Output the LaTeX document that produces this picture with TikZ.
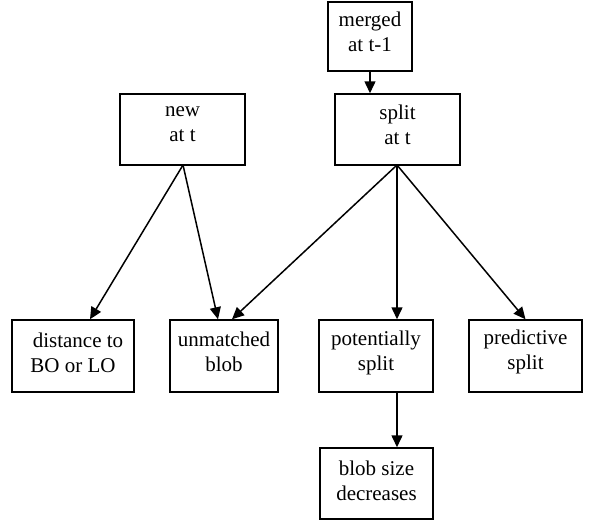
\documentclass[tikz,border=0pt]{standalone}
\usepackage{fontspec}
\setmainfont{Liberation Serif}
\usetikzlibrary{arrows.meta}
\begin{document}
\begin{tikzpicture}[x=1pt,y=-1pt,
  box/.style={draw, line width=1.5pt, inner sep=0pt},
  txt/.style={align=center, inner sep=0pt, font=\fontsize{21}{25}\selectfont},
  conn/.style={line width=1.5pt, -{Triangle[length=12pt,width=11pt]}}]
\useasboundingbox (0,0) rectangle (595,520);
\node[box, minimum width=84pt, minimum height=69pt] (merged) at (370,36.5) {};
\node[box, minimum width=125pt, minimum height=71pt] (new) at (182.5,129.5) {};
\node[box, minimum width=125pt, minimum height=71pt] (split) at (397.5,129.5) {};
\node[box, minimum width=122pt, minimum height=72pt] (dist) at (73,356) {};
\node[box, minimum width=108pt, minimum height=72pt] (unm) at (224,356) {};
\node[box, minimum width=114pt, minimum height=72pt] (pot) at (376,356) {};
\node[box, minimum width=113pt, minimum height=72pt] (pred) at (525.5,356) {};
\node[box, minimum width=113pt, minimum height=71pt] (blob) at (376.5,483.5) {};
\node[txt] (tmerged) at ([yshift=5pt]merged.center) {merged\\at t-1};
\node[txt] (tnew) at ([yshift=5pt]new.center) {new\\at t};
\node[txt] (tsplit) at ([yshift=5pt]split.center) {split\\at t};
\node[txt] (tdist) at ([yshift=3pt]dist.center) {\hspace*{10pt}distance to\\BO or LO};
\node[txt] (tunm) at ([yshift=4pt]unm.center) {unmatched\\blob};
\node[txt] (tpot) at ([yshift=3pt]pot.center) {potentially\\split};
\node[txt] (tpred) at ([yshift=4pt]pred.center) {predictive\\split};
\node[txt] (tblob) at ([yshift=3pt]blob.center) {blob size\\decreases};
\coordinate (ns) at (183,165);
\coordinate (ss) at (397,165);
\draw[conn] (merged.south) -- (merged.south |- split.north);
\draw[conn] (ns) -- ([xshift=17pt]dist.north);
\draw[conn] (ns) -- ([xshift=-6pt]unm.north);
\draw[conn] (ss) -- ([xshift=8pt]unm.north);
\draw[conn] (ss) -- (ss |- pot.north);
\draw[conn] (ss) -- (pred.north);
\draw[conn] (ss |- pot.south) -- (ss |- blob.north);
\end{tikzpicture}
\end{document}
